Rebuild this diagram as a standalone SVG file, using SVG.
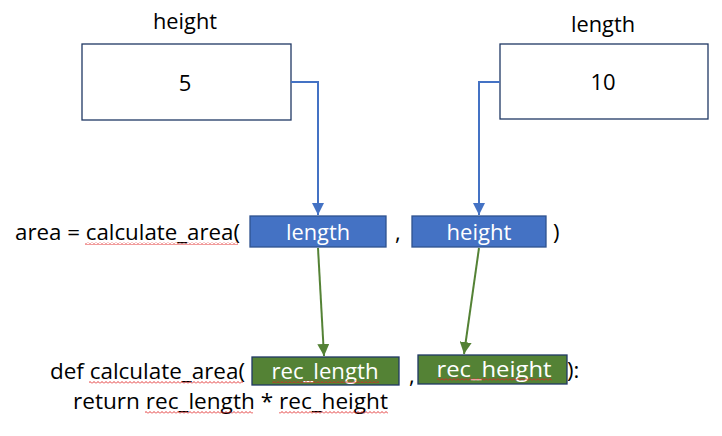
<svg xmlns="http://www.w3.org/2000/svg" width="722" height="436" viewBox="0 0 722 436">
  <defs>
    <style>
      text { font-family: "Open Sans", "Liberation Sans", sans-serif; font-size: 22px; fill: #000; }
      .w { fill: #fff; text-anchor: middle; }
      .c { text-anchor: middle; }
      .box { fill: #fff; stroke: #1f3864; stroke-width: 1.3; }
      .blue { fill: #4472c4; stroke: #2f528f; stroke-width: 1.3; }
      .green { fill: #548235; stroke: #1f3864; stroke-width: 1.3; }
      .bl { fill: none; stroke: #4472c4; stroke-width: 2; }
      .gl { fill: none; stroke: #548235; stroke-width: 2; }
      .sq { fill: url(#squig); }
    </style>
    <marker id="ab" viewBox="0 0 10 10" refX="10" refY="5" markerWidth="6" markerHeight="6" orient="auto" markerUnits="strokeWidth">
      <path d="M0,0 L10,5 L0,10 Z" fill="#4472c4"/>
    </marker>
    <marker id="ag" viewBox="0 0 10 10" refX="10" refY="5" markerWidth="6" markerHeight="6" orient="auto" markerUnits="strokeWidth">
      <path d="M0,0 L10,5 L0,10 Z" fill="#548235"/>
    </marker>
    <pattern id="squig" width="4" height="3" patternUnits="userSpaceOnUse">
      <path d="M0,2.5 L2,0.5 L4,2.5" fill="none" stroke="#e02020" stroke-width="0.9"/>
    </pattern>
  </defs>

  <g id="height-var">
    <text x="185" y="29" class="c" textLength="64" lengthAdjust="spacingAndGlyphs">height</text>
    <rect class="box" x="82" y="44" width="209" height="76"/>
    <text x="185" y="91" class="c">5</text>
  </g>

  <g id="length-var">
    <text x="603" y="32" class="c" textLength="64" lengthAdjust="spacingAndGlyphs">length</text>
    <rect class="box" x="500" y="44" width="208" height="75"/>
    <text x="603" y="90" class="c">10</text>
  </g>

  <g id="call-line">
    <text x="15" y="240" textLength="225" lengthAdjust="spacingAndGlyphs">area = calculate_area(</text>
    <rect class="sq" x="85" y="242" width="153" height="3"/>
    <text x="395" y="240">,</text>
    <text x="553" y="240">)</text>
  </g>

  <g id="arg-length">
    <rect class="blue" x="250" y="216" width="136" height="31"/>
    <text x="318" y="240" class="w" textLength="64" lengthAdjust="spacingAndGlyphs">length</text>
  </g>

  <g id="arg-height">
    <rect class="blue" x="412" y="216" width="134" height="31"/>
    <text x="479" y="240" class="w" textLength="65" lengthAdjust="spacingAndGlyphs">height</text>
  </g>

  <g id="def-line">
    <text x="50" y="379" textLength="195" lengthAdjust="spacingAndGlyphs">def calculate_area(</text>
    <rect class="sq" x="89" y="381" width="154" height="3"/>
    <text x="409" y="383">,</text>
    <text x="567" y="378">):</text>
    <text x="73" y="409" textLength="315" lengthAdjust="spacingAndGlyphs">return rec_length * rec_height</text>
    <rect class="sq" x="145" y="411" width="108" height="3"/>
    <rect class="sq" x="279" y="411" width="109" height="3"/>
  </g>

  <g id="param-rec-length">
    <rect class="green" x="252" y="357" width="147" height="28"/>
    <text x="325" y="379" class="w" textLength="107" lengthAdjust="spacingAndGlyphs">rec_length</text>
    <rect class="sq" x="272" y="380" width="107" height="3"/>
  </g>

  <g id="param-rec-height">
    <rect class="green" x="418" y="355" width="149" height="29"/>
    <text x="494" y="377" class="w" textLength="115" lengthAdjust="spacingAndGlyphs">rec_height</text>
    <rect class="sq" x="437" y="378" width="115" height="3"/>
  </g>

  <g id="connectors">
    <path class="bl" d="M291,82 H318 V215" marker-end="url(#ab)"/>
    <path class="bl" d="M500,82 H479 V215" marker-end="url(#ab)"/>
    <path class="gl" d="M318,248 L324,356" marker-end="url(#ag)"/>
    <path class="gl" d="M479,248 L464,354" marker-end="url(#ag)"/>
  </g>
</svg>
